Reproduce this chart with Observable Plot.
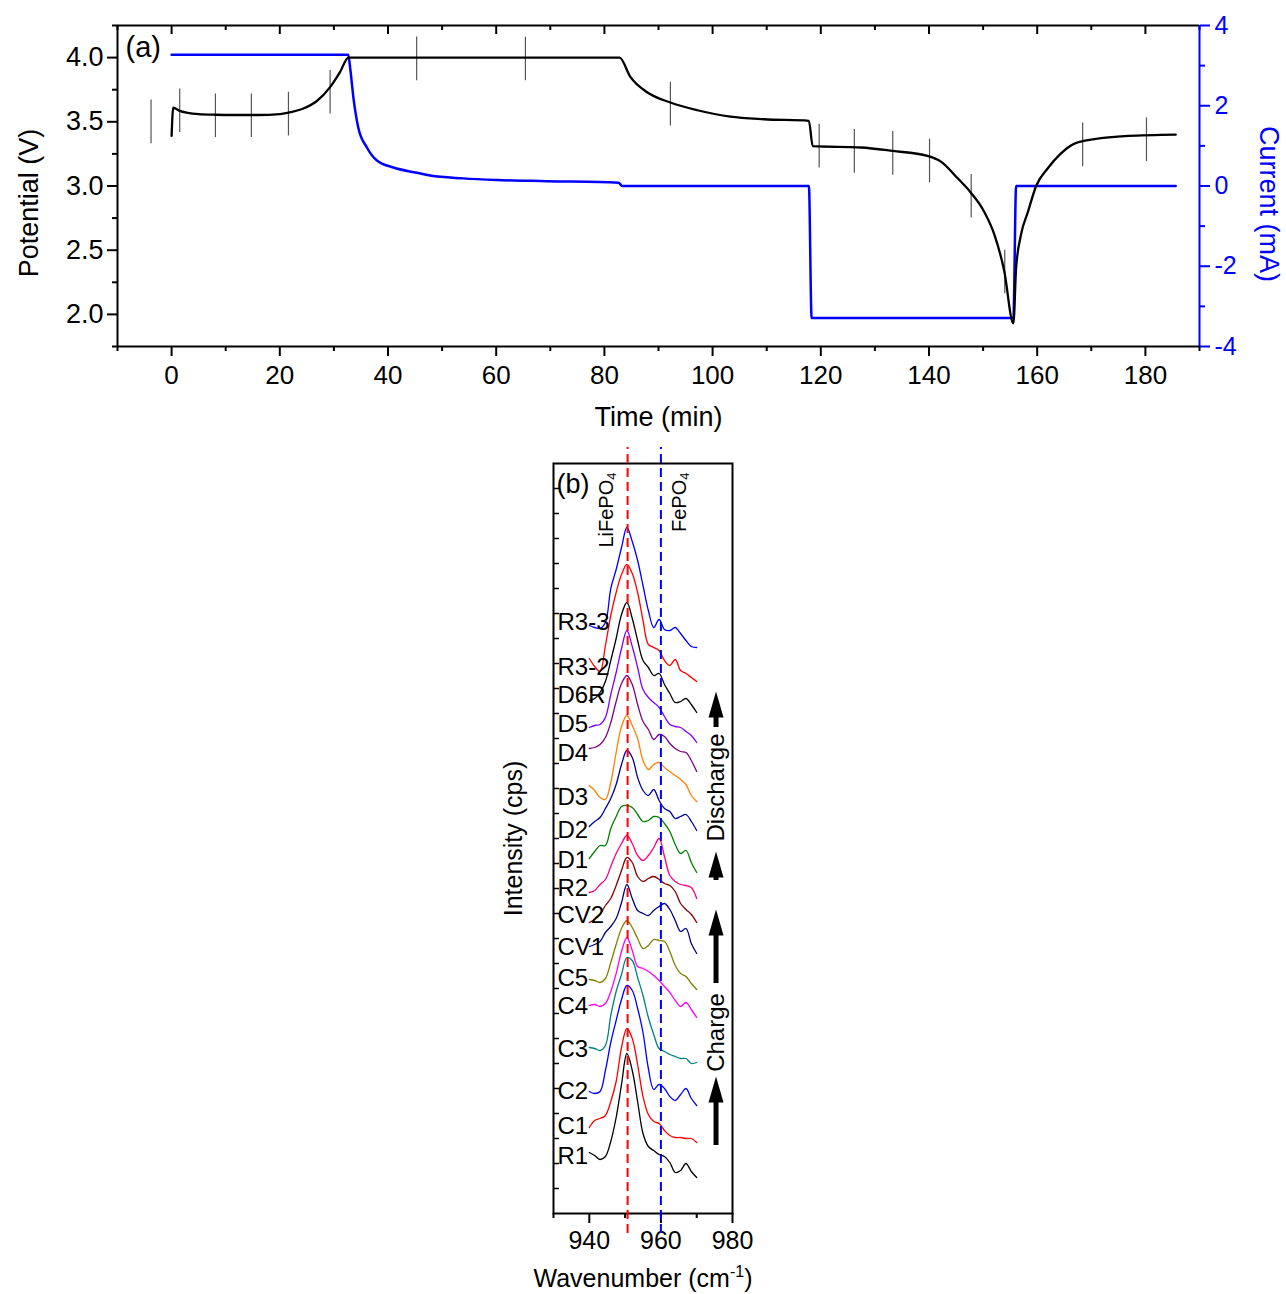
<!DOCTYPE html>
<html><head><meta charset="utf-8">
<script src="https://cdn.jsdelivr.net/npm/d3@7"></script>
<script src="https://cdn.jsdelivr.net/npm/@observablehq/plot@0.6"></script>
<style>
body{margin:0;background:#fff;}
#wrap{position:relative;width:1286px;height:1294px;background:#fff;}
#top,#bot{position:absolute;left:0;}
#top{top:0}
#bot{top:440px}
svg{overflow:visible}
</style></head><body><div id="wrap"><div id="top"></div><div id="bot"></div></div>
<script>
// ---------- Panel (a): potential and current vs time ----------
const timeMin = [0, 0.3, 1.5, 3, 5, 8, 12, 16, 20, 22, 24, 26.8, 29.3, 31.1, 32.7, 40, 60, 82.8, 84.8, 87.9, 92.2, 97.2, 103.3, 109.5, 117.8, 118.5, 127.4, 133.3, 139.7, 142.2, 145.3, 147.7, 150.2, 152.1, 153.9, 155.6, 156.1, 157, 158.3, 159.8, 162, 164.3, 166.9, 170.6, 176.8, 185.6];
const potentialV = [3.39, 3.61, 3.585, 3.57, 3.56, 3.555, 3.553, 3.553, 3.56, 3.575, 3.598, 3.66, 3.77, 3.885, 4.0, 4.0, 4.0, 4.0, 3.85, 3.73, 3.65, 3.59, 3.54, 3.52, 3.508, 3.31, 3.30, 3.273, 3.234, 3.19, 3.06, 2.95, 2.80, 2.62, 2.34, 1.93, 2.36, 2.62, 2.80, 3.0, 3.14, 3.25, 3.33, 3.365, 3.39, 3.40];
const currentTime = [0, 32.65, 33.0, 33.6, 34.5, 36.1, 37.9, 41, 45.3, 47.8, 53.9, 60.1, 69.4, 82.6, 83.3, 117.8, 118.3, 155.6, 156.1, 185.6];
const currentMA = [3.27, 3.27, 2.95, 2.21, 1.46, 0.96, 0.64, 0.46, 0.33, 0.26, 0.19, 0.15, 0.12, 0.08, 0, 0, -3.29, -3.29, 0, 0];
// moments at which spectra were taken (vertical markers)
const spectrumTime = [-3.8, 1.5, 8.1, 14.75, 21.6, 29.3, 45.3, 65.4, 92.2, 119.7, 126.2, 133.3, 140.1, 147.8, 154, 168.4, 180.2];
const spectrumV = [3.50, 3.586, 3.547, 3.547, 3.56, 3.73, 3.99, 3.99, 3.637, 3.31, 3.27, 3.254, 3.195, 2.92, 2.33, 3.32, 3.36];
const markerHalf = 0.17;
const timeTicks = [0, 20, 40, 60, 80, 100, 120, 140, 160, 180];
const potentialTicks = [2.0, 2.5, 3.0, 3.5, 4.0];
const currentTicks = [-4, -2, 0, 2, 4];

// ---------- Panel (b): Raman spectra ----------
const wavenumber = [940, 941.5, 943, 944.5, 946, 947.5, 949, 950.5, 952, 953.5, 955, 956.5, 958, 959.5, 961, 962.5, 964, 965.5, 967, 968.5, 970];
const spectraNames = ["R1","C1","C2","C3","C4","C5","CV1","CV2","R2","D1","D2","D3","D4","D5","D6R","R3-2","R3-3"];
// intensity level at which each spectrum's name sits
const spectraLabelLevel = [58, 88, 123, 165, 208, 236, 267, 299, 326, 354, 384, 417, 461, 490, 519, 547, 592];
const R1  = [62,59,55,58,73,97,130,161,144,113,81,68,64,60,58,52,42,44,51,43,37];
const C1  = [87,94,96,99,113,133,167,186,176,150,118,100,93,91,84,79,77,77,76,76,72];
const C2  = [123,121,123,144,172,194,215,229,224,206,182,146,125,130,126,118,114,120,126,116,109];
const C3  = [167,166,164,169,199,223,240,257,254,237,219,197,180,166,163,160,158,156,156,151,152];
const C4  = [209,210,208,211,223,241,263,277,264,248,246,243,239,234,228,222,214,208,212,205,197];
const C5  = [235,234,232,236,252,270,286,294,287,276,266,269,275,274,273,263,249,241,238,231,225];
const CV1 = [268,270,273,282,288,296,312,330,316,304,301,299,304,308,311,305,294,283,286,271,261];
const CV2 = [292,295,300,309,316,329,344,357,352,338,333,336,338,335,331,329,323,311,305,300,292];
const R2  = [322,324,330,335,348,361,371,379,371,359,354,359,367,376,358,339,333,330,329,327,316];
const D1  = [356,363,369,369,386,398,408,409,407,400,393,394,398,397,391,383,370,361,364,352,342];
const D2  = [388,393,397,406,416,430,450,464,457,437,424,419,425,414,406,403,396,398,400,393,384];
const D3  = [429,424,417,415,432,462,488,499,489,476,454,445,450,452,447,443,439,435,430,419,413];
const D4  = [466,467,470,477,492,513,531,539,530,510,493,485,475,480,478,471,466,463,462,454,443];
const D5  = [487,489,490,497,520,542,566,584,568,547,525,517,512,507,498,490,488,487,483,479,472];
const D6R = [514,516,522,533,554,576,600,612,596,574,554,547,539,541,530,521,512,513,516,510,502];
const R3_2 = [556,548,543,569,599,622,640,650,641,622,594,570,567,564,554,549,555,544,541,537,533];
const R3_3 = [589,587,586,592,626,645,667,687,673,654,629,604,587,595,585,584,587,581,574,568,567];
const spectra = [R1,C1,C2,C3,C4,C5,CV1,CV2,R2,D1,D2,D3,D4,D5,D6R,R3_2,R3_3];
const spectraColors = ["#000000","#ff0000","#0000ff","#008080","#ff00ff","#808000","#000080","#800000","#ff0080","#008000","#0000a0","#ff8000","#800080","#8000ff","#000000","#ff0000","#0000ff"];
const lifepo4Band = 950.7;
const fepo4Band = 960;
const waveTicks = [940, 960, 980];
// annotation arrows (intensity units): shaft start/end, head base
const arrowShafts = [[69,112],[231,279],[334,337],[487,497]];
const arrowHeads = [112, 279, 337, 497];
const arrowTexts = [{t:"Charge", y:182}, {t:"Discharge", y:427}];
const arrowW = 975.4;

const F = '"Liberation Sans", Arial, Helvetica, sans-serif';
const BLUE = "#0000ff";

// ---- panel (a) ----
const vFromI = i => 3 + i / 3.2;
const potData = timeMin.map((t, i) => ({t, v: potentialV[i]}));
const curData = currentTime.map((t, i) => ({t, v: vFromI(currentMA[i])}));
const pxPerV = 321 / 2.5;
const xMinor = d3.range(-10, 191, 20);

const topPlot = Plot.plot({
  width: 1286, height: 440,
  marginLeft: 117, marginRight: 87, marginTop: 25, marginBottom: 94,
  style: {fontFamily: F, background: "white", overflow: "visible"},
  x: {domain: [-10, 190], axis: null},
  y: {domain: [1.75, 4.25], axis: null},
  marks: [
    Plot.axisX({ticks: timeTicks, anchor: "bottom", tickSize: 10, tickPadding: 9, strokeWidth: 2, fontSize: 26, label: null, tickFormat: d => String(d)}),
    Plot.axisX({ticks: xMinor, anchor: "bottom", tickSize: 5, strokeWidth: 2, label: null, tickFormat: () => ""}),
    Plot.ruleX(timeTicks, {x: d => d, y1: 4.25, y2: 4.25 - 9 / pxPerV, strokeWidth: 2}),
    Plot.ruleX(xMinor, {x: d => d, y1: 4.25, y2: 4.25 - 5 / pxPerV, strokeWidth: 2}),
    Plot.axisY({ticks: potentialTicks, anchor: "left", tickSize: 10, tickPadding: 4, strokeWidth: 2, fontSize: 27, label: null, tickFormat: d3.format(".1f")}),
    Plot.axisY({ticks: [1.75, 2.25, 2.75, 3.25, 3.75, 4.25], anchor: "left", tickSize: 5, strokeWidth: 2, label: null, tickFormat: () => ""}),
    Plot.axisY({ticks: currentTicks.map(vFromI), anchor: "right", tickSize: 10, tickPadding: 5, strokeWidth: 2, fontSize: 25, label: null, color: BLUE, tickFormat: v => String(Math.round((v - 3) * 3.2))}),
    Plot.axisY({ticks: [-3, -1, 1, 3].map(vFromI), anchor: "right", tickSize: 5, strokeWidth: 2, label: null, color: BLUE, tickFormat: () => ""}),
    Plot.ruleY([1.75, 4.25], {strokeWidth: 2}),
    Plot.ruleX([-10], {strokeWidth: 2}),
    Plot.ruleX([190], {stroke: BLUE, strokeWidth: 2}),
    Plot.ruleX(spectrumTime, {x: d => d, y1: (d, i) => spectrumV[i] - markerHalf, y2: (d, i) => spectrumV[i] + markerHalf, stroke: "#555", strokeWidth: 1.2}),
    Plot.line(curData, {x: "t", y: "v", stroke: BLUE, strokeWidth: 2.5, curve: "monotone-x"}),
    Plot.line(potData, {x: "t", y: "v", stroke: "black", strokeWidth: 2.3, curve: "monotone-x"}),
    Plot.text(["(a)"], {frameAnchor: "top-left", dx: 8, dy: 11, fontSize: 29, textAnchor: "start", lineAnchor: "top"}),
    Plot.text(["Potential (V)"], {frameAnchor: "left", dx: -88, dy: 17, rotate: -90, fontSize: 27, textAnchor: "middle", lineAnchor: "middle"}),
    Plot.text(["Current (mA)"], {frameAnchor: "right", dx: 69, dy: 18, rotate: 90, fontSize: 27, fill: BLUE, textAnchor: "middle", lineAnchor: "middle"}),
    Plot.text(["Time (min)"], {frameAnchor: "bottom", dy: 71, fontSize: 27, textAnchor: "middle", lineAnchor: "middle"})
  ]
});
document.getElementById("top").appendChild(topPlot);

// ---- panel (b) ----
const specMarks = spectra.map((s, i) =>
  Plot.line(wavenumber.map((w, j) => ({w, v: s[j]})), {x: "w", y: "v", stroke: spectraColors[i], strokeWidth: 1.3, curve: "catmull-rom"})
);
const pxPerW = 179 / 50;
const headSymbol = {draw(ctx) { ctx.moveTo(0, -26); ctx.lineTo(7.5, 0); ctx.lineTo(-7.5, 0); ctx.closePath(); }};

const botPlot = Plot.plot({
  width: 1286, height: 854,
  marginLeft: 553, marginRight: 554, marginTop: 23, marginBottom: 81,
  style: {fontFamily: F, background: "white", overflow: "visible"},
  x: {domain: [930, 980], axis: null},
  y: {domain: [1, 751], axis: null},
  marks: [
    Plot.ruleY(d3.range(26, 751, 25), {y: d => d, x1: 930, x2: 930 + 6 / pxPerW, strokeWidth: 1.5}),
    Plot.axisX({ticks: waveTicks, anchor: "bottom", tickSize: 10, tickPadding: 8, strokeWidth: 2, fontSize: 25, label: null, tickFormat: d => String(d)}),
    Plot.axisX({ticks: [930, 950, 970], anchor: "bottom", tickSize: 5, strokeWidth: 2, label: null, tickFormat: () => ""}),
    Plot.frame({stroke: "black", strokeWidth: 2}),
    ...specMarks,
    Plot.ruleX([lifepo4Band], {x: d => d, y1: -19, y2: 767, stroke: "#ff0000", strokeWidth: 2, strokeDasharray: "9,5"}),
    Plot.ruleX([fepo4Band], {x: d => d, y1: -19, y2: 767, stroke: BLUE, strokeWidth: 2, strokeDasharray: "9,5"}),
    Plot.text(spectraNames, {frameAnchor: "left", y: (d, i) => spectraLabelLevel[i], dx: 4, text: d => d, textAnchor: "start", fontSize: 24}),
    Plot.text(["(b)"], {frameAnchor: "top-left", dx: 3, dy: 10, fontSize: 27, textAnchor: "start", lineAnchor: "top"}),
    Plot.text([{w: lifepo4Band, t: "LiFePO4"}], {x: "w", text: "t", frameAnchor: "top", dx: -21, dy: 9, rotate: -90, textAnchor: "end", lineAnchor: "middle", fontSize: 20}),
    Plot.text([{w: fepo4Band, t: "FePO4"}], {x: "w", text: "t", frameAnchor: "top", dx: 19, dy: 9, rotate: -90, textAnchor: "end", lineAnchor: "middle", fontSize: 20}),
    Plot.ruleX(arrowShafts, {x: arrowW, y1: d => d[0], y2: d => d[1], strokeWidth: 5}),
    Plot.dot(arrowHeads, {x: arrowW, y: d => d, symbol: headSymbol, fill: "black", stroke: "none", r: 5}),
    Plot.text(arrowTexts, {x: arrowW, y: "y", text: "t", rotate: -90, fontSize: 24, textAnchor: "middle", lineAnchor: "middle"}),
    Plot.text(["Wavenumber (cm-1)"], {frameAnchor: "bottom", dy: 65, fontSize: 25, textAnchor: "middle", lineAnchor: "middle"}),
    Plot.text(["Intensity (cps)"], {frameAnchor: "left", dx: -40, rotate: -90, fontSize: 25, textAnchor: "middle", lineAnchor: "middle"})
  ]
});
document.getElementById("bot").appendChild(botPlot);

// sub/superscripts
botPlot.querySelectorAll("text").forEach(el => {
  const s = el.textContent;
  if (s === "LiFePO4") el.innerHTML = 'LiFePO<tspan font-size="13" dy="3">4</tspan>';
  else if (s === "FePO4") el.innerHTML = 'FePO<tspan font-size="13" dy="3">4</tspan>';
  else if (s === "Wavenumber (cm-1)") el.innerHTML = 'Wavenumber (cm<tspan font-size="16" dy="-10">-1</tspan><tspan dy="10">)</tspan>';
});
</script>
</body></html>
